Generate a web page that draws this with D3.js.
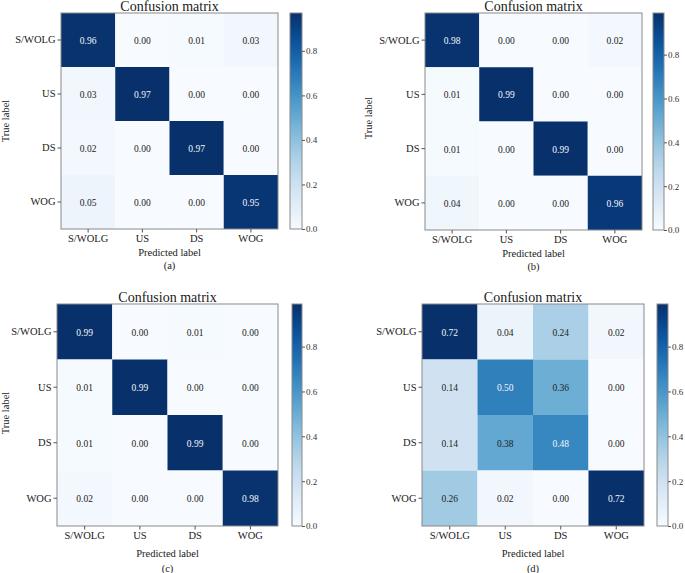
<!DOCTYPE html>
<html><head><meta charset="utf-8">
<script src="https://cdn.jsdelivr.net/npm/d3@7"></script>
<style>
body{margin:0;background:#fff;}
text{font-family:"Liberation Serif","Times New Roman",serif;fill:#1a1a1a;}
</style></head><body>
<svg id="chart" width="685" height="573"></svg>
<script>
const categories = ["S/WOLG", "US", "DS", "WOG"];
const panelTags = ["(a)", "(b)", "(c)", "(d)"];
const matrixA = [[0.96,0.00,0.01,0.03],[0.03,0.97,0.00,0.00],[0.02,0.00,0.97,0.00],[0.05,0.00,0.00,0.95]];
const matrixB = [[0.98,0.00,0.00,0.02],[0.01,0.99,0.00,0.00],[0.01,0.00,0.99,0.00],[0.04,0.00,0.00,0.96]];
const matrixC = [[0.99,0.00,0.01,0.00],[0.01,0.99,0.00,0.00],[0.01,0.00,0.99,0.00],[0.02,0.00,0.00,0.98]];
const matrixD = [[0.72,0.04,0.24,0.02],[0.14,0.50,0.36,0.00],[0.14,0.38,0.48,0.00],[0.26,0.02,0.00,0.72]];
const colorbarMax = [0.97, 0.99, 0.99, 0.99];
const colorbarTicks = [0.0, 0.2, 0.4, 0.6, 0.8];
const matrices = [matrixA, matrixB, matrixC, matrixD];

// layout (positions only)
const layout = [
  {x0:61, x1:278, y0:13, y1:229, cb0:290, cb1:302, tl:9, tly:121, lblOff:23, tagOff:36, showY:true},
  {x0:425, x1:642, y0:13, y1:230, cb0:653, cb1:664, tl:372, tly:118, lblOff:23, tagOff:36, showY:true},
  {x0:57, x1:278, y0:304, y1:526, cb0:292, cb1:302, tl:9, tly:413, lblOff:27, tagOff:42, showY:true},
  {x0:422, x1:644, y0:304, y1:526, cb0:657, cb1:668, tl:0, tly:0, lblOff:27, tagOff:42, showY:false}
];

const FF = '"Liberation Serif","Times New Roman",serif';
const svg = d3.select("#chart");
const defs = svg.append("defs");

matrices.forEach((m, i) => {
  const L = layout[i];
  const g = svg.append("g");
  const x = d3.scaleBand().domain(categories).range([L.x0, L.x1]);
  const y = d3.scaleBand().domain(categories).range([L.y0, L.y1]);
  const vmax = d3.max(m.flat());
  const color = d3.scaleSequential(d3.interpolateBlues).domain([0, vmax]);

  const cells = [];
  m.forEach((row, r) => row.forEach((v, c) => cells.push({r: categories[r], c: categories[c], v})));

  g.selectAll("rect.cell").data(cells).enter().append("rect")
    .attr("x", d => x(d.c)).attr("y", d => y(d.r))
    .attr("width", x.bandwidth()).attr("height", y.bandwidth())
    .attr("fill", d => color(d.v));

  g.selectAll("text.val").data(cells).enter().append("text")
    .attr("x", d => x(d.c) + x.bandwidth()/2)
    .attr("y", d => y(d.r) + y.bandwidth()/2 + 4)
    .attr("text-anchor", "middle")
    .style("font-size", "9.5px")
    .style("fill", d => d.v > vmax*0.6 ? "#f4f6fa" : "#222")
    .text(d => d.v.toFixed(2));

  g.append("rect").attr("x", L.x0).attr("y", L.y0)
    .attr("width", L.x1-L.x0).attr("height", L.y1-L.y0)
    .attr("fill", "none").attr("stroke", "#8a8a8a").attr("stroke-width", 1);

  // title
  g.append("text").attr("x", (L.x0+L.x1)/2).attr("y", L.y0 - 2)
    .attr("text-anchor", "middle").style("font-size", "14px").text("Confusion matrix");

  // axes
  const xa = g.append("g").attr("transform", `translate(0,${L.y1})`)
    .call(d3.axisBottom(x).tickSize(3.5).tickPadding(2));
  const ya = g.append("g").attr("transform", `translate(${L.x0},0)`)
    .call(d3.axisLeft(y).tickSize(3.5).tickPadding(2));
  [xa, ya].forEach(a => {
    a.attr("font-family", FF);
    a.select(".domain").remove();
    a.selectAll("line").attr("stroke", "#555");
    a.selectAll("text").style("font-size", "10.5px").style("fill", "#1a1a1a").style("font-family", FF);
  });

  g.append("text").attr("x", (L.x0+L.x1)/2).attr("y", L.y1 + L.lblOff + 4)
    .attr("text-anchor", "middle").style("font-size", "10.5px").text("Predicted label");
  g.append("text").attr("x", (L.x0+L.x1)/2).attr("y", L.y1 + L.tagOff + 4)
    .attr("text-anchor", "middle").style("font-size", "10.5px").text(panelTags[i]);
  if (L.showY) {
    g.append("text").attr("transform", `translate(${L.tl},${L.tly}) rotate(-90)`)
      .attr("text-anchor", "middle").style("font-size", "10.5px").text("True label");
  }

  // colorbar
  const gid = "grad" + i;
  const grad = defs.append("linearGradient").attr("id", gid)
    .attr("x1", 0).attr("y1", 1).attr("x2", 0).attr("y2", 0);
  d3.range(0, 1.0001, 0.05).forEach(t => grad.append("stop")
    .attr("offset", t).attr("stop-color", d3.interpolateBlues(t)));
  g.append("rect").attr("x", L.cb0).attr("y", L.y0)
    .attr("width", L.cb1-L.cb0).attr("height", L.y1-L.y0)
    .attr("fill", `url(#${gid})`).attr("stroke", "#8a8a8a").attr("stroke-width", 1);
  const cy = d3.scaleLinear().domain([0, colorbarMax[i]]).range([L.y1, L.y0]);
  const ca = g.append("g").attr("transform", `translate(${L.cb1},0)`)
    .call(d3.axisRight(cy).tickValues(colorbarTicks).tickFormat(d3.format(".1f")).tickSize(3).tickPadding(1));
  ca.attr("font-family", FF);
  ca.select(".domain").remove();
  ca.selectAll("line").attr("stroke", "#555");
  ca.selectAll("text").style("font-size", "9px").style("fill", "#333").style("font-family", FF);
});
</script>
</body></html>
